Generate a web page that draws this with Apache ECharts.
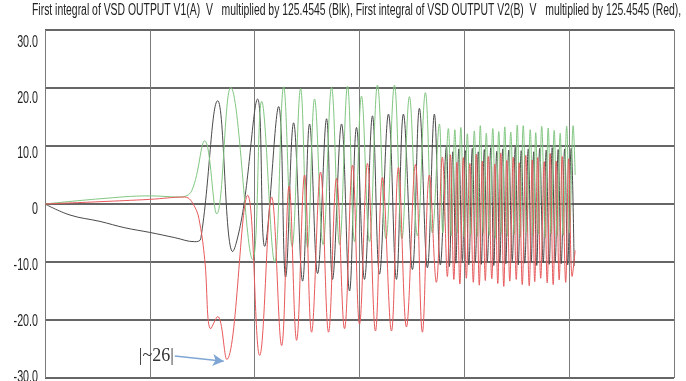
<!DOCTYPE html>
<html>
<head>
<meta charset="utf-8">
<script src="https://cdn.jsdelivr.net/npm/echarts@6/dist/echarts.min.js"></script>
<style>
  html, body { margin: 0; padding: 0; background: #fff; }
  #chart { width: 686px; height: 381px; }
</style>
</head>
<body>
<div id="chart"></div>
<script>
// x in samples from trace start (one grid division = 105), y in V
const titleText = 'First integral of VSD OUTPUT V1(A)  V   multiplied by 125.4545 (Blk), First integral of VSD OUTPUT V2(B)  V   multiplied by 125.4545 (Red),';
const yTicks = [30, 20, 10, 0, -10, -20, -30];
// the scope prints its scale labels on a slightly squeezed scale
const labelRange = [-30.2, 32.2];

// black trace: ramp, then peaks / troughs
const blackX = [0, 25, 55, 80, 105, 130, 150, 156, 173, 188, 198, 213, 220, 234, 241, 249, 258, 265, 273, 282, 288,
  297, 305, 312, 320, 328, 335, 344, 352, 359, 368, 375, 383, 390, 396,
  402, 405, 408.5, 411.5, 414.5, 418, 421, 424.5, 428, 431, 434, 437, 440, 443, 446.5, 449.5,
  452.5, 455.5, 458.5, 461.5, 464.5, 468, 471, 474, 477, 480.5, 484, 487, 489.5, 492.5,
  495.5, 499, 502, 505, 508, 511, 514, 517, 520.5, 523.5, 527, 530];
const blackY = [0, -1.9, -3.0, -4.1, -4.9, -5.8, -6.5, -6.0, 17.8, -8.2, -1.5, 18.1, -7.3, 16.8, -12.6, 14.0, -13.3, 13.8, -12.0, 14.7, -13.0,
  13.8, -15.0, 13.2, -13.0, 15.2, -12.1, 15.5, -13.0, 15.5, -11.3, 16.5, -11.0, 15.5, -10.5,
  9.8, -10.8, 9.0, -10.2, 9.5, -9.8, 9.2, -10.5, 9.6, -10.0, 9.0, -10.4, 9.4, -9.9, 9.7, -10.6,
  9.1, -10.1, 9.5, -10.3, 9.3, -9.8, 9.8, -10.5, 9.2, -10.2, 9.5, -10.0, 9.0, -10.6,
  9.6, -10.1, 9.3, -10.4, 9.7, -9.9, 9.4, -10.3, 9.5, -10.5, 9.6, -10.7];

// red trace
const redX = [0, 55, 105, 140, 150, 155, 160, 166, 173, 182, 203, 215, 227, 237, 244.5, 252, 260, 267,
  276, 284, 292, 300, 308, 315, 323, 331, 338, 347, 354, 362, 371, 378, 385, 392, 398,
  403, 406, 409.5, 412.5, 415.5, 419, 422, 425.5, 429, 432, 435, 438, 441, 444, 447.5, 450.5,
  453.5, 456.5, 459.5, 462.5, 465.5, 469, 472, 475, 478, 481.5, 485, 488, 490.5, 493.5,
  496.5, 500, 503, 506, 509, 512, 515, 518, 521.5, 524.5, 528, 531];
const redY = [0, 0.4, 0.8, 1.2, -0.5, -3.3, -9.6, -21.5, -19.4, -26.8, 1.5, -26.1, 1.2, -24.4, 3.1, -23.5, 5.0, -22.1,
  5.5, -22.1, 4.4, -21.5, 6.7, -20.7, 7.0, -21.9, 4.6, -21.9, 6.3, -21.2, 6.8, -22.1, 5.0, -13.5, 8.1,
  -12.5, 8.5, -13.0, 7.2, -13.8, 8.0, -12.8, 7.0, -13.5, 8.6, -14.0, 7.4, -13.2, 8.2, -12.9, 6.9,
  -13.7, 8.8, -14.2, 7.5, -13.3, 8.1, -13.0, 7.1, -13.9, 8.4, -14.1, 7.6, -13.4, 8.0,
  -12.8, 7.3, -13.6, 8.7, -13.9, 7.4, -13.1, 8.2, -13.5, 7.8, -12.5, -8.0];

// green trace
const greenX = [0, 55, 105, 135, 147, 160, 172, 186, 208, 217, 230, 239, 247.5, 256, 263, 270, 278.5, 287,
  295, 303, 310, 317, 325, 333, 341.5, 350, 357.5, 365, 373, 381, 388, 395, 398.5,
  404, 407, 410.5, 413.5, 416.5, 420, 423, 426.5, 430, 433, 436, 439, 442, 445, 448.5, 451.5,
  454.5, 457.5, 460.5, 463.5, 466.5, 470, 473, 476, 479, 482.5, 486, 489, 491.5, 494.5,
  497.5, 501, 504, 507, 510, 513, 516, 519, 522.5, 525.5, 529, 531];
const greenY = [0, 0.9, 1.4, 1.2, 2.3, 10.9, -1.7, 20.1, -9.6, 17.7, -10.0, 20.2, -7.3, 19.9, -7.5, 18.1, -7.0, 20.1,
  -7.0, 20.3, -6.5, 18.6, -6.5, 20.5, -6.0, 20.5, -6.0, 18.5, -5.5, 19.2, -5.0, 13.8, -5.0,
  13.0, -5.5, 12.8, -5.0, 13.2, -5.8, 12.1, -5.2, 12.6, -5.6, 13.5, -5.0, 12.2, -5.4, 13.0, -5.9,
  12.5, -5.1, 13.3, -5.5, 12.4, -5.3, 13.6, -5.7, 13.5, -5.0, 12.8, -5.6, 12.3, -5.2,
  13.4, -5.8, 13.1, -5.1, 12.7, -5.5, 12.2, -5.4, 13.4, -5.0, 13.5, 5.0];

// hand-drawn note on the chart
const noteFrom = [130, -26.2];
const noteTo = [179, -27.1];
const noteText = '|~26|';

const sans = "'Liberation Sans', Arial, sans-serif";

function pairs(xs, ys) {
  return xs.map((x, i) => [x, ys[i]]);
}

function trace(name, xs, ys, color) {
  return {
    name: name,
    type: 'line',
    data: pairs(xs, ys),
    smooth: 0.4,
    showSymbol: false,
    lineStyle: {color: color, width: 1},
    itemStyle: {color: color},
    silent: true
  };
}

function tickText(v) {
  return v === 0 ? '0' : v.toFixed(1);
}

const chart = echarts.init(document.getElementById('chart'));

const red = trace('V2(B)', redX, redY, '#e8595b');
red.markLine = {
  silent: true,
  symbol: ['none', 'arrow'],
  symbolSize: [9, 11],
  lineStyle: {color: '#7fa6d4', width: 1.5, type: 'solid'},
  label: {
    show: true,
    position: 'start',
    distance: 1,
    formatter: noteText,
    fontFamily: "'Liberation Serif', serif",
    fontSize: 18,
    color: '#333'
  },
  data: [[{coord: noteFrom}, {coord: noteTo}]]
};

const option = {
  animation: false,
  backgroundColor: '#fff',
  grid: {left: 45, right: 12, top: 30, bottom: 3},
  xAxis: {
    type: 'value',
    min: 0,
    max: 630,
    interval: 105,
    axisLine: {show: false},
    axisTick: {show: false},
    axisLabel: {show: false},
    splitLine: {show: true, lineStyle: {color: '#7a7a7a', width: 1}}
  },
  yAxis: [{
    type: 'value',
    min: -30,
    max: 30,
    interval: 10,
    axisLine: {show: false},
    axisTick: {show: false},
    axisLabel: {show: false},
    splitLine: {show: true, lineStyle: {color: '#666', width: 2}}
  }, {
    // only used to place the printed scale numbers
    type: 'value',
    show: false,
    min: labelRange[0],
    max: labelRange[1]
  }],
  series: [
    trace('V1(A)', blackX, blackY, '#4a4a4a'),
    trace('V3', greenX, greenY, '#82c782'),
    red
  ]
};

chart.setOption(option);

// the scope output is horizontally squeezed, so text is drawn narrow
const graphics = [{
  type: 'text',
  x: 32,
  y: 11,
  scaleX: 0.65,
  silent: true,
  style: {text: titleText, fontSize: 16, fontFamily: sans, fill: '#222', align: 'left', verticalAlign: 'middle'}
}];
yTicks.forEach(v => {
  graphics.push({
    type: 'text',
    x: 38,
    y: chart.convertToPixel({yAxisIndex: 1}, v),
    scaleX: 0.63,
    silent: true,
    style: {text: tickText(v), fontSize: 17, fontFamily: sans, fill: '#222', align: 'right', verticalAlign: 'middle'}
  });
});
chart.setOption({graphic: graphics});
</script>
</body>
</html>
